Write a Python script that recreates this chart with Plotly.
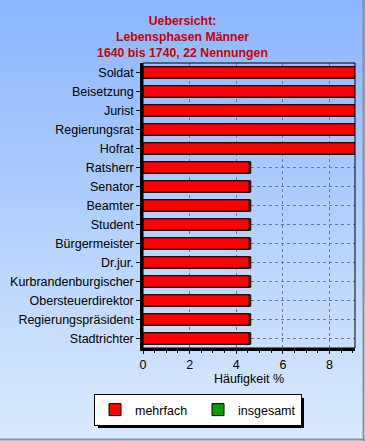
import plotly.graph_objects as go

categories = ["Soldat", "Beisetzung", "Jurist", "Regierungsrat", "Hofrat", "Ratsherr",
              "Senator", "Beamter", "Student", "Bürgermeister", "Dr.jur.",
              "Kurbrandenburgischer", "Obersteuerdirektor", "Regierungspräsident", "Stadtrichter"]
mehrfach = [9.09, 9.09, 9.09, 9.09, 9.09, 4.55, 4.55, 4.55, 4.55, 4.55, 4.55, 4.55, 4.55, 4.55, 4.55]
insgesamt = [9.09, 9.09, 9.09, 9.09, 9.09, 4.62, 4.62, 4.62, 4.62, 4.62, 4.62, 4.62, 4.62, 4.62, 4.62]
x_ticks = [0, 2, 4, 6, 8]

W, H = 365, 441
L, R, T, B = 143, 10, 63, 93
pw, ph = W - L - R, H - T - B

def px(x):
    return (x - L) / pw

def py(y):
    return (H - B - y) / ph

fig = go.Figure()
fig.add_trace(go.Bar(y=categories, x=insgesamt, orientation="h", name="insgesamt",
                     marker=dict(color="#00a000", line=dict(color="black", width=1)),
                     showlegend=False))
fig.add_trace(go.Bar(y=categories, x=mehrfach, orientation="h", name="mehrfach",
                     marker=dict(color="#ff0000", line=dict(color="black", width=1))))
fig.add_trace(go.Bar(y=[None], x=[None], orientation="h", name="insgesamt",
                     marker=dict(color="#00a000", line=dict(color="black", width=1))))

shapes = []
n = 60
top = (140, 182, 255)
bot = (218, 234, 252)
for i in range(n):
    f = i / (n - 1)
    c = tuple(int(round(top[k] + (bot[k] - top[k]) * f)) for k in range(3))
    y0 = i * H / n
    y1 = (i + 1) * H / n + 1
    shapes.append(dict(type="rect", xref="paper", yref="paper", x0=px(0), x1=px(W),
                       y0=py(y1), y1=py(y0), line=dict(width=0),
                       fillcolor="rgb(%d,%d,%d)" % c, layer="below"))
shapes.append(dict(type="line", xref="paper", yref="paper", x0=px(W - 1.5), x1=px(W - 1.5),
                   y0=py(0), y1=py(H), line=dict(color="#909090", width=2)))
shapes.append(dict(type="line", xref="paper", yref="paper", x0=px(0), x1=px(W),
                   y0=py(H - 1.5), y1=py(H - 1.5), line=dict(color="#909090", width=2)))
shapes.append(dict(type="rect", xref="paper", yref="paper", x0=0, x1=1, y0=0, y1=1,
                   line=dict(color="black", width=1)))
# legend shadow
lx0, lx1, ly0, ly1 = 94, 300, 394, 424
shapes.append(dict(type="rect", xref="paper", yref="paper", x0=px(lx0 + 4), x1=px(lx1 + 4),
                   y0=py(ly1 + 4), y1=py(ly0 + 4), fillcolor="black", line=dict(width=0)))

fig.update_layout(
    width=W, height=H,
    margin=dict(l=L, r=R, t=T, b=B, autoexpand=False),
    paper_bgcolor="#c8dcfa", plot_bgcolor="rgba(0,0,0,0)",
    barmode="overlay", bargap=0.4,
    font=dict(family="Liberation Sans, Arial, sans-serif", size=12.5, color="black"),
    title=dict(text="<b>Uebersicht:<br>Lebensphasen Männer<br>1640 bis 1740, 22 Nennungen</b>",
               x=0.5, xanchor="center", xref="container", y=1 - 25 / H, yanchor="top",
               font=dict(size=12.3, color="#cc0000")),
    shapes=shapes,
    legend=dict(orientation="h", x=px(lx0), y=py(ly0), xanchor="left", yanchor="top",
                bgcolor="white", bordercolor="black", borderwidth=1, font=dict(size=12.5),
                traceorder="normal", itemwidth=30, entrywidth=58, entrywidthmode="pixels"),
    xaxis=dict(range=[0, 9.09], tickvals=x_ticks, showgrid=True, gridcolor="#6878a0",
               griddash="3px,3px", gridwidth=1, zeroline=False, automargin=False,
               showline=True, linecolor="black", linewidth=2.5,
               ticks="outside", ticklen=3, tickcolor="black",
               minor=dict(dtick=0.5, ticks="outside", ticklen=2, tickcolor="black", showgrid=False),
               title=dict(text="Häufigkeit %", font=dict(size=12.5), standoff=4),
               fixedrange=True),
    yaxis=dict(autorange="reversed", showgrid=True, gridcolor="#6878a0", griddash="3px,3px",
               gridwidth=1, showline=True, linecolor="black", linewidth=2.5, automargin=False,
               ticks="outside", ticklen=4, tickcolor="black", fixedrange=True),
)

fig.write_html("out.html", config={"displayModeBar": False},
               post_script="document.body.style.margin='0';")
